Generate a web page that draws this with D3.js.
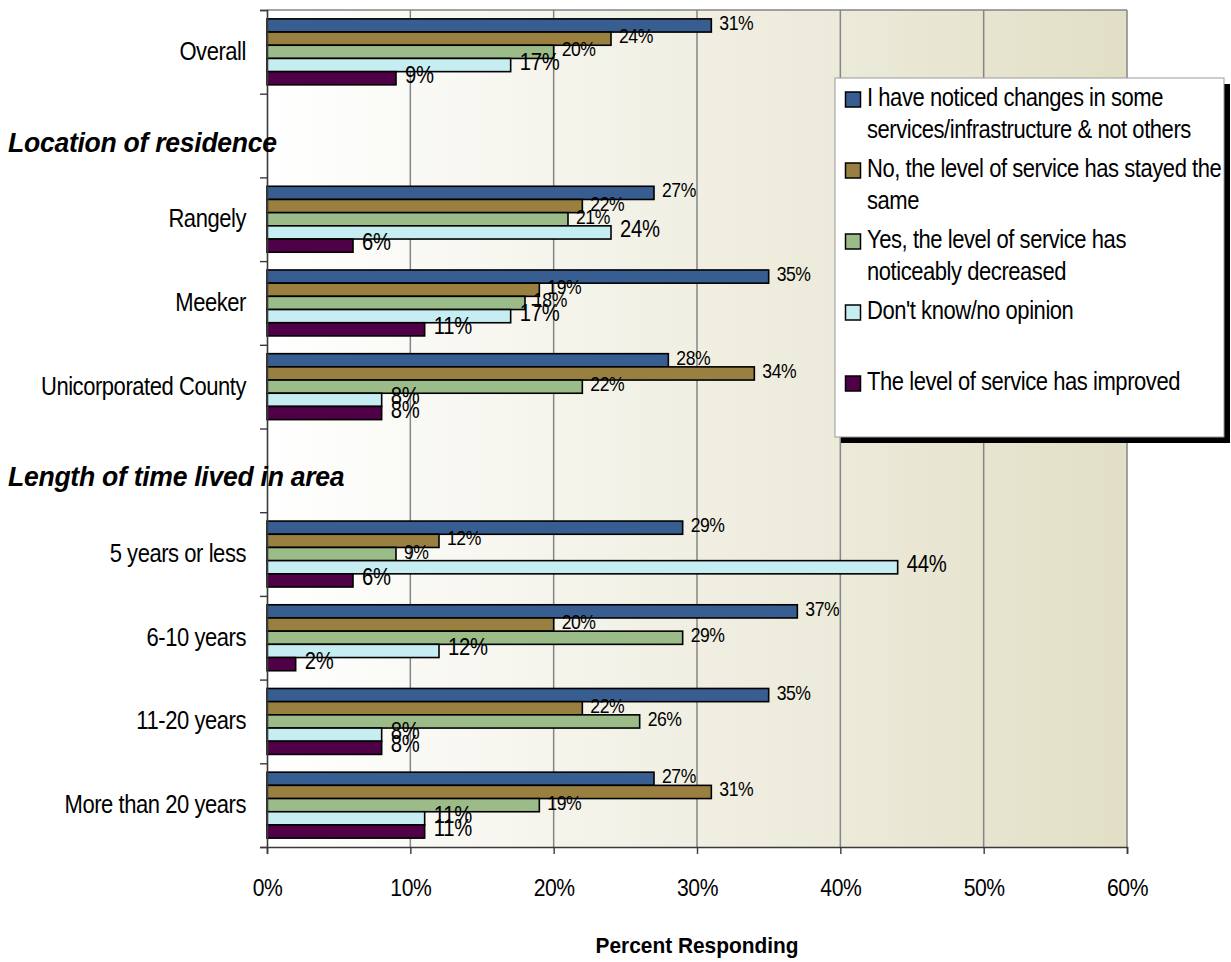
<!DOCTYPE html>
<html>
<head>
<meta charset="utf-8">
<script src="https://cdn.jsdelivr.net/npm/d3@7"></script>
<style>
  html, body { margin: 0; padding: 0; background: #ffffff; }
  svg { display: block; }
  text { font-family: "Liberation Sans", Arial, sans-serif; fill: #000; }
</style>
</head>
<body>
<svg id="chart" width="1231" height="962"></svg>
<script>
// Rows on the vertical axis; two of them are section headings with no bars
const rows = ["Overall", "Location of residence", "Rangely", "Meeker", "Unicorporated County",
              "Length of time lived in area", "5 years or less", "6-10 years", "11-20 years", "More than 20 years"];
const headings = ["Location of residence", "Length of time lived in area"];
const groups = ["Overall", "Rangely", "Meeker", "Unicorporated County",
                "5 years or less", "6-10 years", "11-20 years", "More than 20 years"];

// Percent responding per group, one array per answer
const noticedSome = [31, 27, 35, 28, 29, 37, 35, 27];
const stayedSame  = [24, 22, 19, 34, 12, 20, 22, 31];
const decreased   = [20, 21, 18, 22,  9, 29, 26, 19];
const dontKnow    = [17, 24, 17,  8, 44, 12,  8, 11];
const improved    = [ 9,  6, 11,  8,  6,  2,  8, 11];

const seriesKeys = ["noticedSome", "stayedSame", "decreased", "dontKnow", "improved"];
const seriesValues = [noticedSome, stayedSame, decreased, dontKnow, improved];
const seriesColors = ["#385d91", "#9a8040", "#9bbb89", "#c6eef2", "#500046"];
const legendLines = [
  ["I have noticed changes in some", "services/infrastructure & not others"],
  ["No, the level of service has stayed the", "same"],
  ["Yes, the level of service has", "noticeably decreased"],
  ["Don't know/no opinion"],
  ["The level of service has improved"]
];
const xTicks = [0, 10, 20, 30, 40, 50, 60];
const xTitle = "Percent Responding";

// Narrow type: glyphs are drawn slightly compressed horizontally
const SX = 0.88;
const at = (px, py, sx = SX) => `translate(${px},${py}) scale(${sx},1)`;

const svg = d3.select("#chart");
const plot = { left: 267, right: 1127, top: 10, bottom: 847 };

const x = d3.scaleLinear().domain([0, 60]).range([plot.left, plot.right]);
const y = d3.scaleBand().domain(rows).range([plot.top, plot.bottom]).padding(0);
const bw = y.bandwidth();
const inner = d3.scaleBand().domain(seriesKeys).range([bw * 0.106, bw * (1 - 0.106)]).padding(0);
const yIdx = d3.scaleLinear().domain([0, rows.length]).range([plot.top, plot.bottom]);

// Plot background: horizontal fade from white to pale khaki
const defs = svg.append("defs");
const grad = defs.append("linearGradient").attr("id", "bgGrad")
  .attr("gradientUnits", "userSpaceOnUse")
  .attr("x1", plot.left).attr("x2", plot.right).attr("y1", 0).attr("y2", 0);
grad.append("stop").attr("offset", 0).attr("stop-color", "#ffffff");
grad.append("stop").attr("offset", 1).attr("stop-color", "#e2dfc6");

svg.append("rect")
  .attr("x", plot.left).attr("y", plot.top)
  .attr("width", plot.right - plot.left).attr("height", plot.bottom - plot.top)
  .attr("fill", "url(#bgGrad)");

// Vertical gridlines and top border
svg.append("g").selectAll("line").data(xTicks.slice(1)).join("line")
  .attr("x1", d => x(d)).attr("x2", d => x(d))
  .attr("y1", plot.top).attr("y2", plot.bottom)
  .attr("stroke", "#858585").attr("stroke-width", 1.5);
svg.append("line")
  .attr("x1", plot.left).attr("x2", plot.right)
  .attr("y1", plot.top).attr("y2", plot.top)
  .attr("stroke", "#858585").attr("stroke-width", 1.5);

// Bars
const barData = [];
groups.forEach((g, gi) => {
  seriesKeys.forEach((k, si) => {
    barData.push({ group: g, key: k, si, value: seriesValues[si][gi] });
  });
});

svg.append("g").selectAll("rect").data(barData).join("rect")
  .attr("x", x(0))
  .attr("y", d => y(d.group) + inner(d.key))
  .attr("width", d => x(d.value) - x(0))
  .attr("height", inner.bandwidth())
  .attr("fill", d => seriesColors[d.si])
  .attr("stroke", "#000").attr("stroke-width", 1.6);

// Value labels; the last two answers use a larger type
svg.append("g").selectAll("text").data(barData).join("text")
  .attr("transform", d => at(x(d.value) + (d.si < 3 ? 8 : 9),
                             y(d.group) + inner(d.key) + inner.bandwidth() / 2 + 4.5))
  .attr("font-size", d => d.si < 3 ? 20 : 23)
  .attr("letter-spacing", d => d.si < 3 ? -0.5 : -0.3)
  .text(d => d.value + "%");

// Left axis with tick marks between rows
const yAxis = d3.axisLeft(yIdx).tickValues(d3.range(rows.length + 1)).tickSize(7).tickFormat("");
const gy = svg.append("g").attr("transform", `translate(${plot.left},0)`).call(yAxis);
gy.select(".domain").attr("stroke", "#3a3a3a").attr("stroke-width", 1.6);
gy.selectAll(".tick line").attr("stroke", "#3a3a3a").attr("stroke-width", 1.4);

// Bottom axis
const xAxis = d3.axisBottom(x).tickValues(xTicks).tickSize(7).tickPadding(25).tickFormat(d => d + "%");
const gx = svg.append("g").attr("transform", `translate(0,${plot.bottom})`).call(xAxis);
gx.select(".domain").attr("stroke", "#3a3a3a").attr("stroke-width", 1.6);
gx.selectAll(".tick line").attr("stroke", "#3a3a3a").attr("stroke-width", 1.4);
gx.selectAll(".tick text")
  .attr("font-family", "'Liberation Sans', Arial, sans-serif")
  .attr("font-size", 24).attr("letter-spacing", -0.5).attr("fill", "#000")
  .attr("transform", `scale(${SX},1)`);

// Row labels and section headings
const isHead = d => headings.includes(d);
svg.append("g").selectAll("text").data(rows).join("text")
  .attr("transform", d => isHead(d)
    ? at(8, y(d) + bw / 2 + 16, 0.95)
    : at(246, y(d) + bw / 2 + 8))
  .attr("text-anchor", d => isHead(d) ? "start" : "end")
  .attr("font-size", d => isHead(d) ? 28 : 25)
  .attr("font-weight", d => isHead(d) ? "bold" : "normal")
  .attr("font-style", d => isHead(d) ? "italic" : "normal")
  .attr("letter-spacing", d => isHead(d) ? -0.3 : -0.5)
  .text(d => d);

// Axis title
svg.append("text")
  .attr("transform", at((plot.left + plot.right) / 2, 953, 0.95))
  .attr("text-anchor", "middle")
  .attr("font-size", 22).attr("font-weight", "bold")
  .text(xTitle);

// Legend box with a solid drop shadow
const lg = { x: 835, y: 78, w: 389, h: 359 };
const legend = svg.append("g");
legend.append("rect")
  .attr("x", lg.x + 6).attr("y", lg.y + 6).attr("width", lg.w).attr("height", lg.h)
  .attr("fill", "#000");
legend.append("rect")
  .attr("x", lg.x).attr("y", lg.y).attr("width", lg.w).attr("height", lg.h)
  .attr("fill", "#fff").attr("stroke", "#9a9a9a").attr("stroke-width", 1);

const entries = legend.selectAll("g.entry").data(seriesKeys).join("g")
  .attr("class", "entry")
  .attr("transform", (d, i) => `translate(${lg.x}, ${lg.y + 28 + i * 71})`);
entries.append("rect")
  .attr("x", 10.5).attr("y", -14).attr("width", 15).attr("height", 15)
  .attr("fill", (d, i) => seriesColors[i])
  .attr("stroke", "#000").attr("stroke-width", 1.5);
entries.each(function (d, i) {
  const g = d3.select(this);
  legendLines[i].forEach((line, j) => {
    g.append("text")
      .attr("transform", at(32, j * 32))
      .attr("font-size", 25).attr("letter-spacing", -0.5)
      .text(line);
  });
});
</script>
</body>
</html>
